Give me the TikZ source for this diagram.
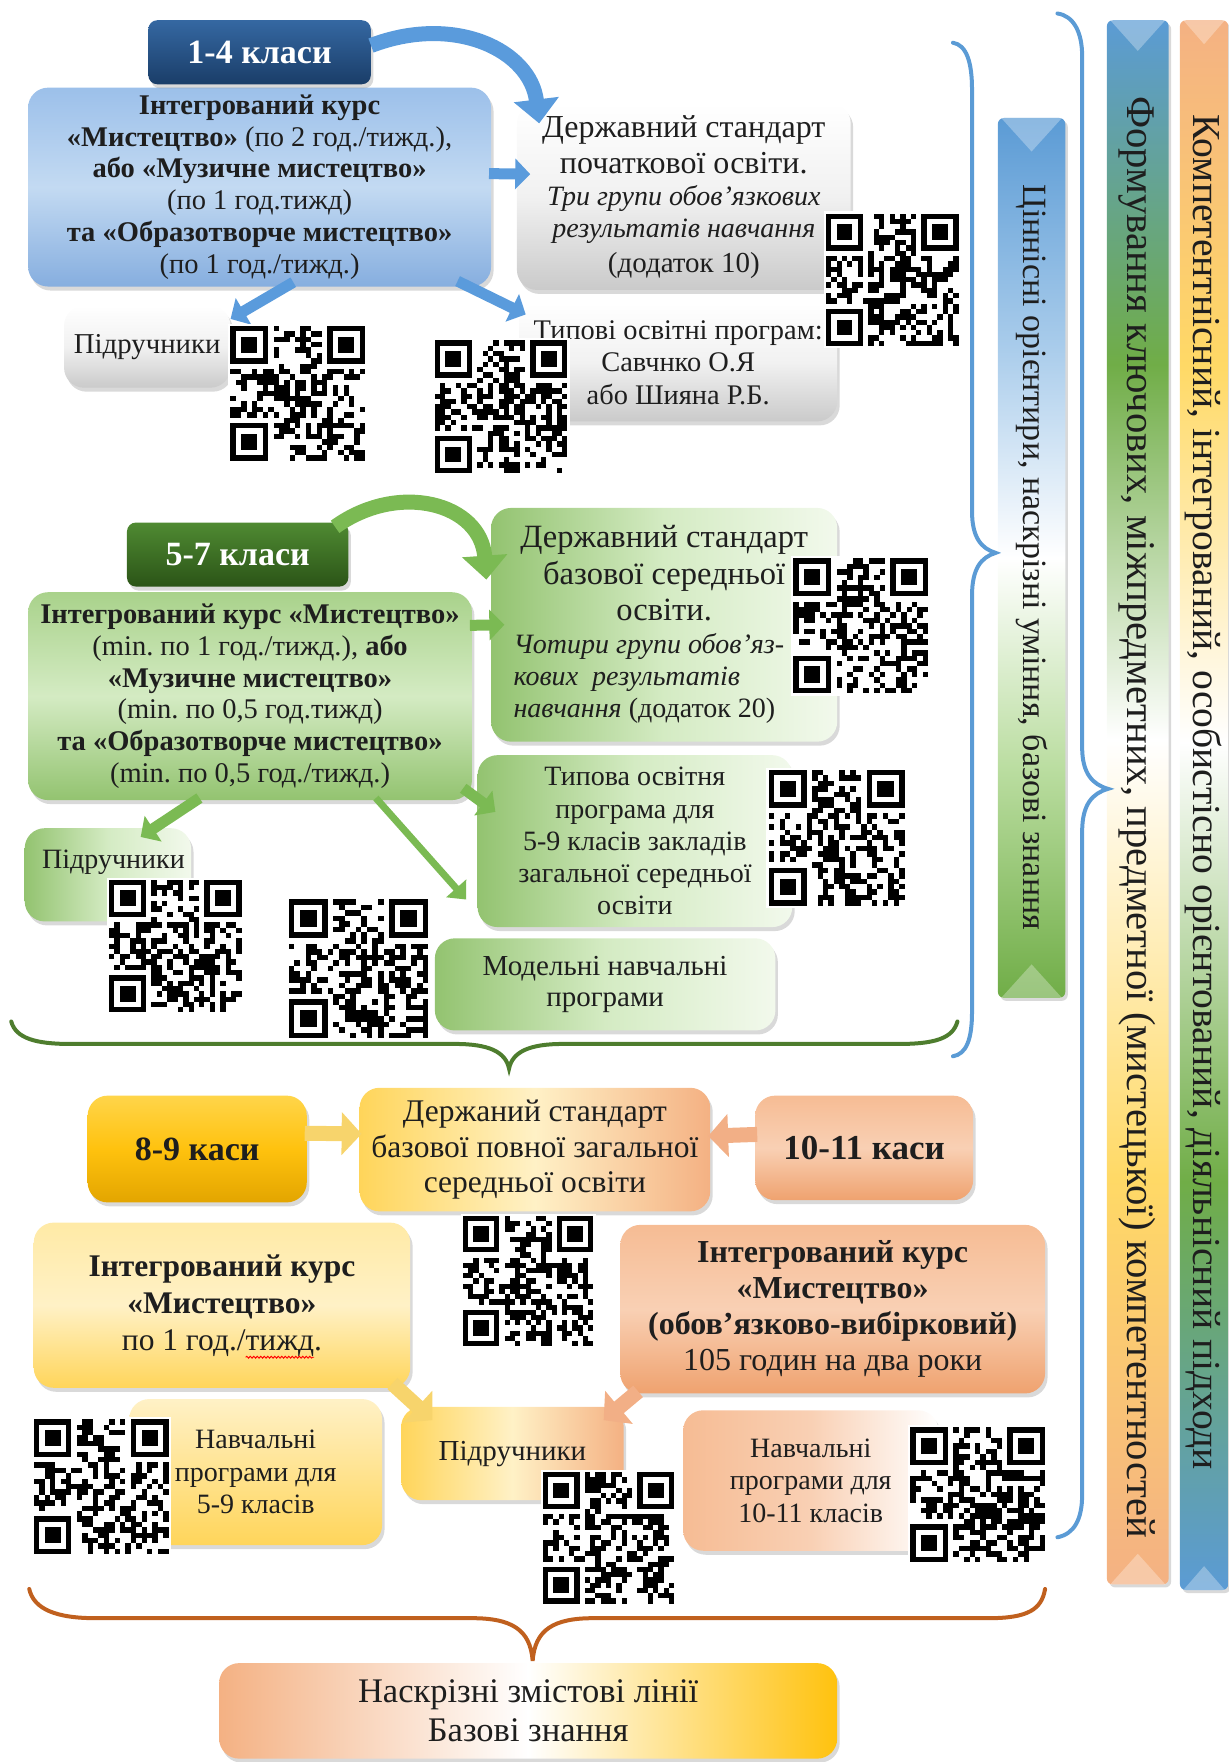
\documentclass[tikz,border=0pt]{standalone}
\usepackage{fontspec}
\setmainfont{Liberation Serif}
\usetikzlibrary{arrows.meta,shadows,calc,decorations.pathmorphing}
\frenchspacing
\newdimen\U \U=1.1235pt
\newcommand\fs[2]{\fontsize{#1pt}{#2pt}\selectfont\spaceskip=0pt\xspaceskip=0pt\relax}
\newcommand\fc[2]{\fs{#1}{#2}\centering}
\newlength\wA \newlength\wB \newlength\wC \newlength\wS \newlength\wE
\definecolor{txt}{HTML}{1E1E1E}
\definecolor{hdbA}{HTML}{3568A2}
\definecolor{hdbB}{HTML}{1A3D68}
\definecolor{bbA}{HTML}{9CC0EA}
\definecolor{bbB}{HTML}{86AEDF}
\definecolor{bbM}{HTML}{C3DAF2}
\definecolor{greyD}{HTML}{CACACA}
\definecolor{greyM}{HTML}{F1F1F1}
\definecolor{arB}{HTML}{5A9BDC}
\definecolor{hdgA}{HTML}{4F8A32}
\definecolor{hdgB}{HTML}{2B5417}
\definecolor{gbA}{HTML}{A9D28B}
\definecolor{gbB}{HTML}{93C370}
\definecolor{gbM}{HTML}{D4EBC3}
\definecolor{gL}{HTML}{F2F9EC}
\definecolor{arG}{HTML}{7BBA53}
\definecolor{brG}{HTML}{4E7D2E}
\definecolor{brB}{HTML}{5B9BD5}
\definecolor{brO}{HTML}{C0601E}
\definecolor{goA}{HTML}{FFD54A}
\definecolor{goB}{HTML}{E3A500}
\definecolor{goM}{HTML}{FFC20E}
\definecolor{yeA}{HTML}{FFEAA6}
\definecolor{yeB}{HTML}{FFD55A}
\definecolor{yeM}{HTML}{FFF1C6}
\definecolor{orA}{HTML}{F6BC94}
\definecolor{orB}{HTML}{EFA26F}
\definecolor{orM}{HTML}{F9D0B4}
\definecolor{arY}{HTML}{F7D46C}
\definecolor{arO}{HTML}{F2AF86}
\definecolor{cBl}{HTML}{5B9BD5}
\definecolor{cBlL}{HTML}{A9CCEB}
\definecolor{cGr}{HTML}{70AD47}
\definecolor{cGrL}{HTML}{BADDA0}
\definecolor{cYe}{HTML}{FFD966}
\definecolor{cYeD}{HTML}{FFC20E}
\definecolor{cOr}{HTML}{F4B183}
\definecolor{cWh}{HTML}{FFFFFF}
\pgfdeclareverticalshading{shC}{100bp}{color(0bp)=(cGr); color(25bp)=(cGr); color(38bp)=(cGrL); color(50bp)=(cWh); color(62bp)=(cBlL); color(75bp)=(cBl); color(100bp)=(cBl)}
\pgfdeclareverticalshading{shF}{100bp}{color(0bp)=(cOr); color(25bp)=(cOr); color(38bp)=(cYe); color(52bp)=(cWh); color(64bp)=(cGr); color(75bp)=(cBl); color(100bp)=(cBl)}
\pgfdeclareverticalshading{shK}{100bp}{color(0bp)=(cBl); color(25bp)=(cBl); color(38bp)=(cGr); color(52bp)=(cWh); color(64bp)=(cYe); color(75bp)=(cOr); color(100bp)=(cOr)}
\pgfdeclarehorizontalshading{shBot}{100bp}{color(0bp)=(cOr); color(25bp)=(cOr); color(50bp)=(cWh); color(75bp)=(cYeD); color(100bp)=(cYeD)}
\pgfdeclarehorizontalshading{shSds}{100bp}{color(0bp)=(yeB); color(25bp)=(yeB); color(50bp)=(yeM); color(75bp)=(cOr); color(100bp)=(cOr)}
\pgfdeclarehorizontalshading{shP3}{100bp}{color(0bp)=(yeB); color(25bp)=(yeB); color(50bp)=(yeM); color(75bp)=(cOr); color(100bp)=(cOr)}
\newcommand\qrcode[4]{%
  \pgfmathsetseed{#4}%
  \pgfmathsetmacro\qm{#3/25}%
  \fill[white] ({#1-2},{#2-2}) rectangle ++({#3+4},{#3+4});
  \foreach \i in {0,...,24}{\foreach \j in {0,...,24}{%
    \pgfmathrandominteger{\qrr}{0}{99}%
    \ifnum\qrr<50 \fill[black] ({#1+\i*\qm},{#2+\j*\qm}) rectangle ++(\qm,\qm);\fi}}%
  \foreach \a/\b in {0/0,17/0,0/17}{%
    \fill[white] ({#1+\a*\qm},{#2+\b*\qm}) rectangle ++({8*\qm},{8*\qm});}%
  \foreach \a/\b in {0/0,18/0,0/18}{%
    \fill[black] ({#1+\a*\qm},{#2+\b*\qm}) rectangle ++({7*\qm},{7*\qm});
    \fill[white] ({#1+(\a+1)*\qm},{#2+(\b+1)*\qm}) rectangle ++({5*\qm},{5*\qm});
    \fill[black] ({#1+(\a+2)*\qm},{#2+(\b+2)*\qm}) rectangle ++({3*\qm},{3*\qm});}%
}
\begin{document}
\settowidth{\wA}{\fs{31.5}{37}по 1 год./тижд.}%
\settowidth{\wB}{\fs{31.5}{37}по 1 год./}%
\settowidth{\wC}{\fs{31.5}{37}тижд}%
\setlength{\wS}{\wB}\addtolength{\wS}{-0.5\wA}%
\setlength{\wE}{\wS}\addtolength{\wE}{\wC}%
\begin{tikzpicture}[x=\U,y=-\U,
  sz/.style 2 args={minimum width=#1\U, minimum height=#2\U, text width=#1\U},
  bx/.style={rounded corners=20pt, align=center, inner sep=0pt, text=txt,
    drop shadow={shadow xshift=2.5pt,shadow yshift=-4pt,opacity=.3}},
  hdB/.style={bx, rounded corners=9pt, top color=hdbA, bottom color=hdbB, text=white},
  hdG/.style={bx, rounded corners=9pt, top color=hdgA, bottom color=hdgB, text=white},
  blueB/.style={bx, top color=bbA, bottom color=bbB, middle color=bbM},
  greyB/.style={bx, top color=white, bottom color=greyD, middle color=greyM},
  greenB/.style={bx, top color=gbA, bottom color=gbB, middle color=gbM},
  greenR/.style={bx, left color=gbB, right color=gL, middle color=gbM},
  goldB/.style={bx, top color=goA, bottom color=goB, middle color=goM},
  yelB/.style={bx, top color=yeA, bottom color=yeB, middle color=yeM},
  yelL/.style={bx, top color=yeM, bottom color=yeB},
  orgB/.style={bx, top color=orA, bottom color=orB, middle color=orM},
  orgR/.style={bx, left color=orA, right color=white, middle color=orM},
  barst/.style={rounded corners=6pt, inner sep=0pt, shade,
    drop shadow={shadow xshift=2.5pt,shadow yshift=-3pt,opacity=.3}},
  bartext/.style={rotate=-90, text=txt, inner sep=0pt},
  aB/.style={draw=arB, line width=11pt, -{Triangle[length=15pt,width=30pt]}},
  aBc/.style={draw=arB, line width=15pt, -{Triangle[length=24pt,width=44pt]}},
  aG/.style={draw=arG, line width=11pt, -{Triangle[length=15pt,width=30pt]}},
  aGt/.style={draw=arG, line width=7pt, -{Triangle[length=15pt,width=26pt]}},
  aGc/.style={draw=arG, line width=15pt, -{Triangle[length=24pt,width=44pt]}},
  aY/.style={draw=arY, line width=15pt, -{Triangle[length=20pt,width=42pt]}},
  aO/.style={draw=arO, line width=15pt, -{Triangle[length=20pt,width=42pt]}},
  brc/.style={line width=4pt, line cap=round}
]
\useasboundingbox (0,0) rectangle (1093,1568);

% ---------- vertical bars ----------
\node[barst, shading=shC, sz={60}{783}] (barC) at (918,496.5) {};
\node[barst, shading=shF, sz={55}{1392}] (barF) at (1012.5,714) {};
\node[barst, shading=shK, sz={43}{1397}] (barK) at (1071.5,716.5) {};
\foreach \b/\w in {barC/60,barF/55,barK/43}{
  \fill[white, opacity=.3] ($(\b.north west)+(3,0)$) -- ($(\b.north east)+(-3,0)$) -- ($(\b.north)+(0,\w/2)$) -- cycle;
  \fill[white, opacity=.3] ($(\b.south west)+(3,0)$) -- ($(\b.south east)+(-3,0)$) -- ($(\b.south)+(0,-\w/2)$) -- cycle;
}
\node[bartext, font=\fs{34}{38}] (barCt) at (918,496) {Ціннісні орієнтири, наскрізні уміння, базові знання};
\node[bartext, font=\fs{40.7}{44}] (barFt) at (1012,727) {Формування ключових, міжпредметних, предметної (мистецької) компетентностей};
\node[bartext, font=\fs{39.6}{42}] (barKt) at (1071,705) {Компетентнісний, інтегрований, особистісно орієнтований, діяльнісний підходи};

% ---------- braces ----------
\draw[brc, brB] (848,38) .. controls (860,40) and (865,55) .. (865,80) -- (865,455) .. controls (865,478) and (873,488) .. (886,492) .. controls (873,496) and (865,506) .. (865,530) -- (865,900) .. controls (865,925) and (860,938) .. (848,940);
\draw[brc, brB] (941,12) .. controls (955,14) and (963,28) .. (963,50) -- (963,665) .. controls (963,688) and (972,698) .. (986,702) .. controls (972,706) and (963,716) .. (963,740) -- (963,1330) .. controls (963,1352) and (956,1365) .. (941,1368);
\draw[brc, brG] (10,909) .. controls (14,924) and (32,929) .. (62,929) -- (405,929) .. controls (435,929) and (450,936) .. (453,951) .. controls (456,936) and (471,929) .. (501,929) -- (800,929) .. controls (832,929) and (848,924) .. (852,909);
\draw[brc, brO] (26,1414) .. controls (30,1432) and (50,1440) .. (85,1440) -- (420,1440) .. controls (455,1440) and (472,1450) .. (474,1478) .. controls (476,1450) and (493,1440) .. (528,1440) -- (880,1440) .. controls (915,1440) and (927,1432) .. (930,1414);

% ---------- section 1-4 ----------
\node[blueB, sz={412}{177}] (b14) at (231,166.5) {\fc{28.5}{31.8}\textbf{Інтегрований курс}\\ \textbf{«Мистецтво»} (по 2 год./тижд.),\\ \textbf{або «Музичне мистецтво»}\\ (по 1 год.тижд)\\ \textbf{та «Образотворче мистецтво»}\\ (по 1 год./тижд.)\par};
\node[hdB, sz={198}{57}] (h14) at (231,46.5) {\fc{34}{40}\bfseries 1-4 класи\par};
\node[greyB, sz={297}{166}] (g14) at (608.5,175) {\fc{32}{36}Державний стандарт\\ початкової освіти.\par\fs{28}{32}\itshape Три групи обов'язкових\\ результатів навчання\par\fs{29}{35}\upshape (додаток 10)\par};
\node[greyB, sz={148}{73}] (p14) at (131,308.5) {\fc{28.8}{32}Підручники\par};
\node[greyB, sz={283}{105}] (t14) at (603.5,322.5) {\fc{28.4}{32.5}Типові освітні програм:\\ Савчнко О.Я\\ або Шияна Р.Б.\par};
\draw[aBc] ($(h14.east)+(0,-6)$) .. controls (405,12) and (472,45) .. ($(g14.north west)+(20,18)$);
\draw[aB] ($(b14.east)+(-2,-12)$) -- ($(g14.west)+(12,-20)$);
\draw[aB] ($(b14.south)+(30,-4)$) -- ($(p14.north east)+(0,12)$);
\draw[aB] ($(b14.south east)+(-30,-5)$) -- ($(t14.north west)+(6,10)$);
\qrcode{735}{190}{118}{11}
\qrcode{205}{290}{120}{12}
\qrcode{387}{303}{118}{13}

% ---------- section 5-7 ----------
\node[greenB, sz={395}{185}] (gm) at (222.5,619.5) {\fc{28.5}{31.8}\textbf{Інтегрований курс «Мистецтво»}\\ (min. по 1 год./тижд.), \textbf{або}\\ \textbf{«Музичне мистецтво»}\\ (min. по 0,5 год.тижд)\\ \textbf{та «Образотворче мистецтво»}\\ (min. по 0,5 год./тижд.)\par};
\node[hdG, sz={197}{57}] (h57) at (211.5,493.5) {\fc{34}{40}\bfseries 5-7 класи\par};
\node[greenR, sz={308}{208}, text width=268\U] (gs) at (591,556) {\fc{32.5}{36.5}Державний стандарт\\ базової середньої\\ освіти.\par\raggedright\fs{28}{32.3}{\itshape Чотири групи обов'яз-\\ кових\ \ результатів\\ навчання} (додаток 20)\par};
\node[greenR, sz={280}{153}] (gt) at (565,748.5) {\fc{28}{32.2}Типова освітня\\ програма для\\ 5-9 класів закладів\\ загальної середньої\\ освіти\par};
\node[greenR, sz={303}{82}] (gmod) at (538.5,876) {\fc{29}{31.5}Модельні навчальні\\ програми\par};
\node[greenR, sz={148}{83}] (gp) at (96,778.5) {};
\node[font=\fs{28}{30}, text=txt, inner sep=0pt] (gpt) at (101,767) {Підручники};
\draw[aGc] ($(h57.north east)+(-12,4)$) .. controls (355,428) and (428,448) .. ($(gs.north west)+(-4,64)$);
\draw[aG] ($(gm.east)+(-2,-63)$) -- ($(gs.west)+(12,0)$);
\draw[aG] ($(gm.east)+(-8,82)$) -- ($(gt.west)+(16,-26)$);
\draw[aG] ($(gm.south)+(-45,-2)$) -- ($(gp.north east)+(-45,8)$);
\draw[aGt] ($(gm.south)+(112,-2)$) -- ($(gt.west)+(-10,52)$);
\qrcode{706}{497}{120}{14}
\qrcode{684}{685}{121}{15}
\qrcode{97}{783}{118}{16}
\qrcode{257}{800}{124}{17}

% ---------- section 8-11 ----------
\node[goldB, sz={195}{95}] (s89) at (175.5,1022.5) {\fc{34}{38}\bfseries 8-9 каси\par};
\node[bx, shade, shading=shSds, sz={312}{110}] (sds) at (476,1023) {\fc{31.5}{35.5}Держаний стандарт\\ базової повної загальної\\ середньої освіти\par};
\node[orgB, sz={194}{93}] (s1011) at (769,1021.5) {\fc{35}{38}\bfseries 10-11 каси\par};
\node[yelB, sz={335}{147}] (sy) at (197.5,1161.5) {\fc{31.5}{37}\textbf{Інтегрований курс}\\ \textbf{«Мистецтво»}\\ по 1 год./тижд.\par};
\node[orgB, sz={378}{150}] (so) at (741,1165) {\fc{32}{36}\textbf{Інтегрований курс}\\ \textbf{«Мистецтво»}\\ \textbf{(обов'язково-вибірковий)}\\ 105 годин на два роки\par};
\node[yelL, sz={225}{130}] (sn59) at (227.5,1310) {\fc{28}{32.5}Навчальні\\ програми для\\ 5-9 класів\par};
\node[bx, shade, shading=shP3, sz={198}{83}] (sp3) at (456,1293.5) {\fc{29}{30}Підручники\par};
\node[orgR, sz={227}{125}] (sn1011) at (721.5,1317.5) {\fc{28}{32.5}Навчальні\\ програми для\\ 10-11 класів\par};
\node[bx, shade, shading=shBot, sz={550}{85}] (bot) at (470,1522.5) {\fc{34.5}{39}Наскрізні змістові лінії\\ Базові знання\par};
\draw[aY] ($(s89.east)+(-2,-14)$) -- ($(sds.west)+(2,-14)$);
\draw[aO] ($(s1011.west)+(2,-12)$) -- ($(sds.east)+(-2,-12)$);
\draw[aY] ($(sy.south east)+(-16,-4)$) -- ($(sp3.north west)+(28,12)$);
\draw[aO] ($(so.south west)+(16,-2)$) -- ($(sp3.north east)+(-18,12)$);
\draw[red, line width=0.9pt, decorate, decoration={snake,amplitude=0.9pt,segment length=3.5pt}] ([xshift=\wS, yshift=-52pt]sy.center) -- ([xshift=\wE, yshift=-52pt]sy.center);
\qrcode{412}{1082}{116}{18}
\qrcode{30}{1263}{120}{19}
\qrcode{483}{1310}{117}{20}
\qrcode{810}{1270}{120}{21}
\end{tikzpicture}
\end{document}
